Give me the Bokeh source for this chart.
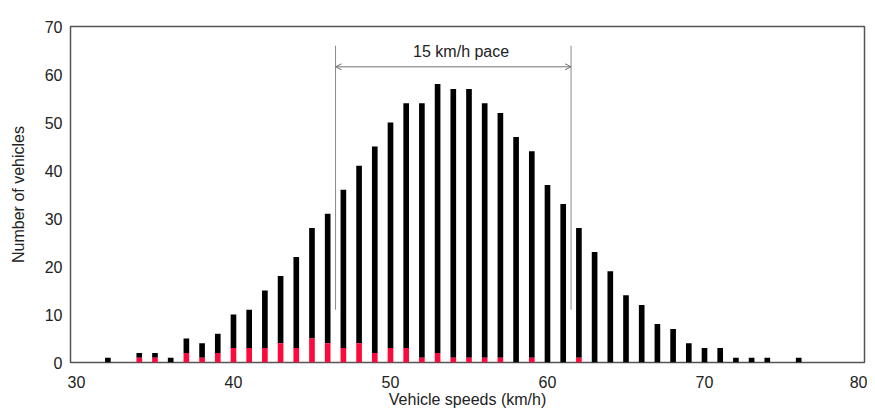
from bokeh.plotting import figure
from bokeh.models import Range1d, Arrow, OpenHead, FixedTicker, ColumnDataSource, Label
from bokeh.embed import file_html
from bokeh.resources import INLINE

# --- data ---
speeds = list(range(32, 77))
totals = [1, 0, 2, 2, 1, 5, 4, 6, 10, 11, 15, 18, 22, 28, 31, 36, 41, 45, 50, 54,
          54, 58, 57, 57, 54, 52, 47, 44, 37, 33, 28, 23, 19, 14, 12, 8, 7, 4, 3, 3,
          1, 1, 1, 0, 1]
red_part = [0, 0, 1, 1, 0, 2, 1, 2, 3, 3, 3, 4, 3, 5, 4, 3, 4, 2, 3, 3,
            1, 2, 1, 1, 1, 1, 0, 1, 0, 0, 1, 0, 0, 0, 0, 0, 0, 0, 0, 0,
            0, 0, 0, 0, 0]
x_ticks = [30, 40, 50, 60, 70, 80]
y_ticks = [0, 10, 20, 30, 40, 50, 60, 70]
pace_start = 46.5
pace_end = 61.5
pace_label = "15 km/h pace"

FONT = "Liberation Sans"

src = ColumnDataSource(dict(x=speeds, total=totals, red=red_part, zero=[0] * len(speeds)))

p = figure(width=867, height=410,
           x_range=Range1d(29.62, 80.19), y_range=Range1d(0, 70),
           output_backend="svg", toolbar_location=None,
           min_border_left=70, min_border_right=3,
           min_border_top=26, min_border_bottom=48)

p.vbar(x="x", bottom="red", top="total", width=0.36, source=src,
       fill_color="#000000", line_color=None)
p.vbar(x="x", bottom="zero", top="red", width=0.36, source=src,
       fill_color="#fb0a3c", line_color=None)

# pace bracket
for xv in (pace_start, pace_end):
    p.segment(x0=[xv], x1=[xv], y0=[11], y1=[66], line_color="#8a8a8a", line_width=1)
p.add_layout(Arrow(x_start=pace_start, x_end=pace_end, y_start=61.6, y_end=61.6,
                   line_color="#707070", line_width=1,
                   start=OpenHead(size=6, line_color="#707070", line_width=1),
                   end=OpenHead(size=6, line_color="#707070", line_width=1)))
p.add_layout(Label(x=(pace_start + pace_end) / 2 + 0.5, y=64.7, text=pace_label,
                   text_align="center", text_baseline="middle",
                   text_font=FONT, text_font_size="16px", text_color="#222222"))

p.xgrid.visible = False
p.ygrid.visible = False
p.outline_line_color = "#555555"
p.outline_line_width = 1.5
p.background_fill_color = "white"
p.border_fill_color = "white"

for ax in (p.xaxis[0], p.yaxis[0]):
    ax.axis_line_color = None
    ax.major_tick_line_color = None
    ax.minor_tick_line_color = None
    ax.major_tick_in = 0
    ax.major_tick_out = 0
    ax.minor_tick_in = 0
    ax.minor_tick_out = 0
    ax.major_label_text_font = FONT
    ax.major_label_text_font_size = "16px"
    ax.major_label_text_color = "#222222"
    ax.axis_label_text_font = FONT
    ax.axis_label_text_font_size = "16px"
    ax.axis_label_text_font_style = "normal"
    ax.axis_label_text_color = "#222222"

p.xaxis.ticker = FixedTicker(ticks=x_ticks)
p.yaxis.ticker = FixedTicker(ticks=y_ticks)
p.xaxis.axis_label = "Vehicle speeds (km/h)"
p.yaxis.axis_label = "Number of vehicles"
p.xaxis.major_label_standoff = 13
p.xaxis.axis_label_standoff = 0
p.yaxis.major_label_standoff = 8
p.yaxis.axis_label_standoff = 15

open("out.html", "w").write(file_html(p, INLINE))
